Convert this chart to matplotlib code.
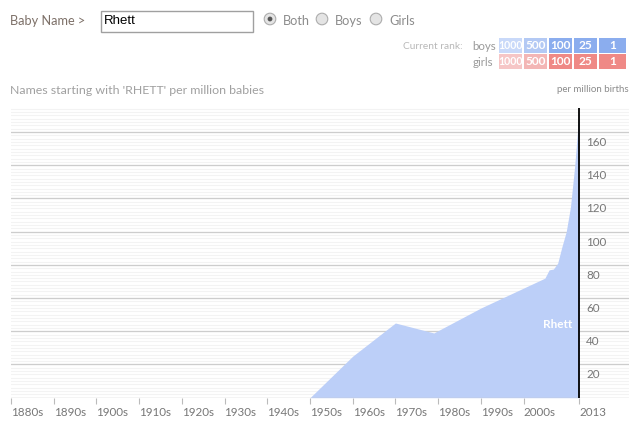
import numpy as np
import matplotlib
matplotlib.use("Agg")
import matplotlib.pyplot as plt
from matplotlib.patches import Rectangle, Circle
from matplotlib.transforms import offset_copy

W, H = 629, 428
plt.rcParams['font.family'] = ['Lato', 'DejaVu Sans']

# data (per million births)
years = [1880, 1949, 1950, 1960, 1970, 1979, 1990, 2000, 2005, 2006, 2007, 2008,
         2009, 2010, 2011, 2012, 2013]
values = [0, 0, 0, 25, 45, 39, 54, 66, 72, 77, 77.5, 81, 91, 100, 115, 140, 172]
name = "Rhett"

decade_ticks = list(range(1880, 2010, 10)) + [2013]
decade_labels = [str(d) + "s" for d in range(1880, 2010, 10)] + ["2013"]
y_major = list(range(20, 180, 20))
y_minor = list(range(2, 176, 2))

rank_levels = ["1000", "500", "100", "25", "1"]
boys_colors = ["#c9d9f9", "#b3c9f4", "#8badee", "#8badee", "#8badee"]
girls_colors = ["#f6c6c6", "#f3b6b5", "#ef8986", "#ef8986", "#ef8986"]
gender_opts = ["Both", "Boys", "Girls"]

fig = plt.figure(figsize=(W / 100, H / 100), dpi=100)

# chart area in pixels
left, right, top, bottom = 11, 629, 108, 397.7
ax = fig.add_axes([left / W, 1 - bottom / H, (right - left) / W, (bottom - top) / H])
ax.set_xlim(1880, 2024.7)
ax.set_ylim(0, 174.5)

for v in y_minor:
    ax.axhline(v, color="#f3f3f3", lw=0.8, zorder=0)
for v in y_major:
    ax.axhline(v, color="#cdcdcd", lw=0.9, zorder=1)
ax.axhline(0, color="#c8c8c8", lw=1.0, zorder=3)

ax.fill_between(years, values, 0, color="#bccff8", lw=0, zorder=2)
ax.axvline(2013, color="black", lw=1.3, zorder=4)

for s in ax.spines.values():
    s.set_visible(False)
ax.set_yticks([])
ax.set_xticks(decade_ticks)
ax.set_xticklabels(decade_labels, ha="left")
ax.tick_params(axis="x", length=4, width=0.8, color="#bbbbbb", pad=3,
               labelsize=8.4, labelcolor="#777777")

# y labels on the right, sitting below their gridlines
off = offset_copy(ax.transData, fig=fig, x=5, y=-3.5, units="points")
for v in y_major:
    ax.text(2013, v, str(v), transform=off, ha="left", va="top",
            fontsize=8.4, color="#777777")

ax.text(2011.3, 43.8, name, ha="right", va="center", color="white",
        fontsize=8.5, fontweight="bold", zorder=5)

# page elements in pixel coordinates
ui = fig.add_axes([0, 0, 1, 1], zorder=-1)
ui.set_xlim(0, W)
ui.set_ylim(H, 0)
ui.axis("off")

ui.text(10, 21, "Baby Name >", fontsize=9.2, color="#7d7068", va="center")
ui.add_patch(Rectangle((100.5, 10.5), 152, 21, fc="white", ec="#a0a0a0", lw=1))
ui.text(104, 21, name, fontsize=9.5, color="black", va="center",
        family=["Liberation Sans", "DejaVu Sans"])
for i, (cx, lab) in enumerate(zip([270, 322, 376], gender_opts)):
    ui.add_patch(Circle((cx, 19), 5.8, fc="#e4e4e4", ec="#acacac", lw=0.8))
    if i == 0:
        ui.add_patch(Circle((cx, 19), 2.4, fc="#555555", ec="none"))
    ui.text(cx + 13, 21, lab, fontsize=9.2, color="#8c8c8c", va="center")

ui.text(463, 46, "Current rank:", fontsize=7.3, color="#b8b8b8", ha="right", va="center")
ui.text(472, 46, "boys", fontsize=8.3, color="#9a9a9a", ha="left", va="center")
ui.text(493, 62, "girls", fontsize=8.3, color="#9a9a9a", ha="right", va="center")
box_x = [499, 523.7, 549, 574.3, 599]
box_w = [24, 24, 24.3, 23.4, 27.7]
for row_y, cols in [(38.3, boys_colors), (54.3, girls_colors)]:
    for bx, bw, c, lab in zip(box_x, box_w, cols, rank_levels):
        ui.add_patch(Rectangle((bx, row_y), bw - 1, 15, fc=c, ec="none"))
        fs = 7.6 if len(lab) > 3 else 8.6
        ui.text(bx + bw / 2 - 0.5, row_y + 7.5, lab, fontsize=fs, color="white",
                fontweight="bold", ha="center", va="center")

ui.text(10, 90, "Names starting with 'RHETT' per million babies", fontsize=8.9,
        color="#a0a0a0", va="center")
ui.text(629, 89, "per million births", fontsize=7, color="#8a8a8a", ha="right", va="center")

fig.savefig("out.png", dpi=100, facecolor="white")
